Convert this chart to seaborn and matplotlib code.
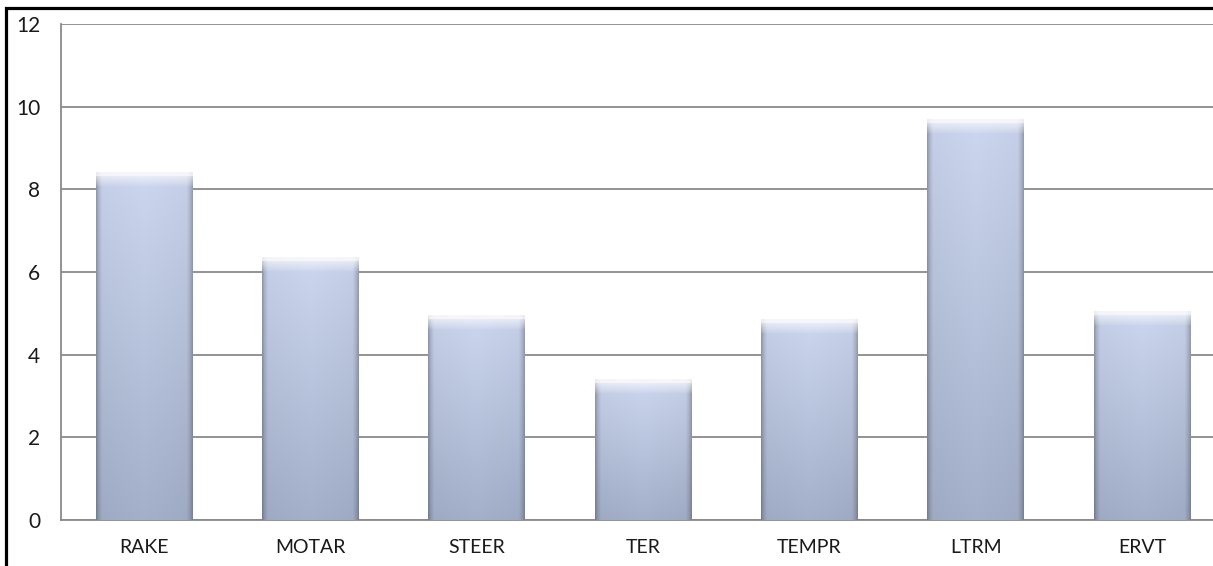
import numpy as np
import pandas as pd
import seaborn as sns
import matplotlib.pyplot as plt
from matplotlib.patches import Rectangle

# data
categories = ["RAKE", "MOTAR", "STEER", "TER", "TEMPR", "LTRM", "ERVT"]
values = [8.4, 6.35, 4.95, 3.4, 4.85, 9.7, 5.05]
y_ticks = [0, 2, 4, 6, 8, 10, 12]

df = pd.DataFrame({"category": categories, "value": values})

sns.set_theme(style="white")
plt.rcParams["font.family"] = ["Lato", "DejaVu Sans"]

W, H = 1213, 566
fig = plt.figure(figsize=(W / 100, H / 100), dpi=100)
# axes runs past the right edge, like the cropped original
ax = fig.add_axes([61 / W, 46 / H, 1164 / W, 496 / H])

sns.barplot(data=df, x="category", y="value", color="#b4c0da", width=0.58, ax=ax)

ax.set_xlim(-0.5, len(categories) - 0.5)
ax.set_ylim(0, 12)
ax.set_yticks(y_ticks)
ax.yaxis.grid(True, color="#8a8a8a", lw=1.3)
ax.set_axisbelow(True)
ax.set_xlabel("")
ax.set_ylabel("")

for s in ["top", "right"]:
    ax.spines[s].set_visible(False)
for s in ["left", "bottom"]:
    ax.spines[s].set_color("#8a8a8a")
    ax.spines[s].set_linewidth(1.3)

ax.tick_params(axis="y", length=0, pad=15, labelsize=15, labelcolor="#1a1a1a")
ax.tick_params(axis="x", length=0, pad=14, labelsize=14, labelcolor="#1a1a1a")

# glassy gradient fill for each bar
px_per_unit = 496 / 12
top_c = np.array([0.80, 0.84, 0.94])
bot_c = np.array([0.64, 0.69, 0.79])
for p in ax.patches:
    x0, w, h = p.get_x(), p.get_width(), p.get_height()
    nrows = max(int(h * px_per_unit), 16)
    ncols = 96
    t = np.linspace(0, 1, ncols)
    hshade = np.interp(t, [0, 0.025, 0.06, 0.5, 0.94, 0.975, 1],
                       [0.72, 0.86, 0.97, 1.0, 0.97, 0.86, 0.74])
    v = np.linspace(0, 1, nrows)[:, None]
    col = top_c * (1 - v) + bot_c * v
    img = col[:, None, :] * hshade[None, :, None]
    # bevel highlight on top
    bev = np.zeros(nrows)
    bev[:4] = 0.8
    bev[4:14] = np.linspace(0.55, 0.1, 10)
    img = img * (1 - bev[:, None, None]) + bev[:, None, None] * 1.0
    img = np.clip(img, 0, 1)
    ax.imshow(img, extent=[x0, x0 + w, 0, h], aspect="auto",
              interpolation="bilinear", zorder=3)
    p.set_visible(False)

ax.set_xlim(-0.5, len(categories) - 0.5)
ax.set_ylim(0, 12)

# black frame around the picture (cropped at right and bottom)
fig.add_artist(Rectangle((6 / W, -0.1), 1.2, 1 - 8 / H + 0.1,
                         transform=fig.transFigure, fill=False,
                         lw=2.3, ec="black"))

plt.savefig("out.png", dpi=100)
